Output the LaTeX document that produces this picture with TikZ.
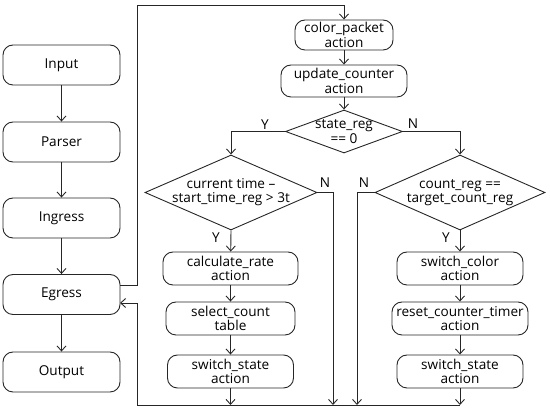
\documentclass[tikz,border=0pt]{standalone}
\usepackage{fontspec}
\setmainfont{Open Sans}
\usetikzlibrary{arrows.meta,shapes.geometric}
\begin{document}
\begin{tikzpicture}[x=1pt,y=-1pt,
  every node/.style={font=\fontsize{13.6}{14.2}\selectfont, text=black},
  line/.style={draw=black!85, line width=0.9pt},
  arr/.style={line, -{Straight Barb[length=5pt,width=9pt]}},
  box/.style={line, rounded corners=10pt, inner sep=0pt, align=center},
  dia/.style={line, diamond, inner sep=0pt},
  lab/.style={inner sep=0pt}]
\useasboundingbox (0,0) rectangle (550,411);
% left column
\node[box, minimum width=117, minimum height=40] (input) at (61.5,65) {Input};
\node[box, minimum width=117, minimum height=40] (parser) at (61.5,142) {Parser};
\node[box, minimum width=117, minimum height=40] (ingress) at (61.5,218) {Ingress};
\node[box, minimum width=117, minimum height=40] (egress) at (61.5,294.5) {Egress};
\node[box, minimum width=117, minimum height=40] (output) at (61.5,372) {Output};
\draw[arr] (input) -- (parser);
\draw[arr] (parser) -- (ingress);
\draw[arr] (ingress) -- (egress);
\draw[arr] (egress) -- (output);
% main flow
\node[box, minimum width=98, minimum height=30] (cp) at (344,35) {color\_packet\\action};
\node[box, minimum width=126, minimum height=32] (uc) at (344,81) {update\_counter\\action};
\node[dia, minimum width=117, minimum height=43] (sr) at (344,131.5) {};
\node[lab, align=center] (srt) at (sr) {state\_reg\\== 0};
\node[dia, minimum width=172, minimum height=75] (c1) at (231,192.5) {};
\node[lab, align=center] (c1t) at (c1) {current time –\\start\_time\_reg > 3t};
\node[dia, minimum width=170, minimum height=75] (c2) at (460,192.5) {};
\node[lab, align=center] (c2t) at (c2) {count\_reg ==\\target\_count\_reg};
\node[box, minimum width=135, minimum height=33] (calc) at (230.5,268.5) {calculate\_rate\\action};
\node[box, minimum width=129, minimum height=33] (sel) at (230.5,318.5) {select\_count\\table};
\node[box, minimum width=126, minimum height=33] (ss1) at (230.5,371.5) {switch\_state\\action};
\node[box, minimum width=126, minimum height=33] (sc) at (460,268.5) {switch\_color\\action};
\node[box, minimum width=136, minimum height=33] (rct) at (460,318.5) {reset\_counter\_timer\\action};
\node[box, minimum width=126, minimum height=33] (ss2) at (460,371.5) {switch\_state\\action};
% coordinates
\coordinate (eout) at (120,285);
\coordinate (ein) at (120,303);
\coordinate (bl) at (137,405);
\coordinate (b1) at (230.5,405);
\coordinate (b2) at (333,405);
\coordinate (b3) at (357,405);
\coordinate (b4) at (460,405);
% connectors
\draw[arr] (eout) -- (137,285) -- (137,5) -- (344,5) -- (cp.north);
\draw[arr] (cp) -- (uc);
\draw[arr] (uc) -- (sr.north);
\draw[arr] (sr.west) -| (c1.north);
\draw[arr] (sr.east) -| (c2.north);
\draw[arr] (c1.south) -- (calc);
\draw[arr] (calc) -- (sel);
\draw[arr] (sel) -- (ss1);
\draw[arr] (c2.south) -- (sc);
\draw[arr] (sc) -- (rct);
\draw[arr] (rct) -- (ss2);
\draw[arr] (ss1) -- (b1);
\draw[arr] (ss2) -- (b4);
\draw[arr] (c1.east) -| (b2);
\draw[arr] (c2.west) -| (b3);
\draw[arr] (b4) -- (bl) |- (ein);
% labels
\node[lab] (ly1) at (265,125) {Y};
\node[lab] (ln1) at (413,124) {N};
\node[lab] (ln2) at (325,183) {N};
\node[lab] (ln3) at (364,183) {N};
\node[lab] (ly2) at (216,238) {Y};
\node[lab] (ly3) at (446,238) {Y};
\end{tikzpicture}
\end{document}
